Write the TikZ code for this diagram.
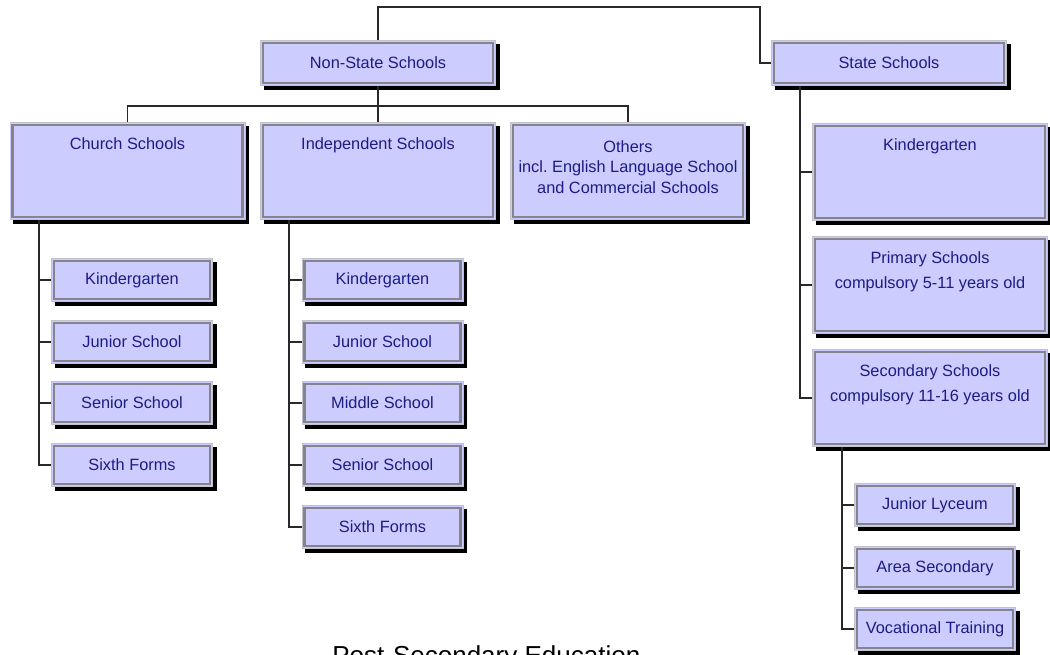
\documentclass[tikz,border=0pt]{standalone}
\usepackage{fontspec}
\setmainfont{Liberation Sans}
\usepackage{tikz}
\usetikzlibrary{positioning}

\definecolor{boxfill}{RGB}{204,204,255}
\definecolor{boxedge}{RGB}{132,132,140}
\definecolor{boxrim}{RGB}{192,192,206}
\definecolor{boxtext}{RGB}{28,28,130}
\definecolor{linkgray}{RGB}{40,40,40}

\tikzset{
  schoolbox/.style={rectangle, inner sep=0pt, outer sep=0.06cm,
    preaction={draw=black, fill=black, line width=0.12cm,
      transform canvas={shift={(0.07cm,-0.07cm)}}},
    preaction={draw=boxrim, line width=0.12cm},
    preaction={draw=boxfill, line width=0.08cm},
    fill=boxfill, draw=boxedge, line width=0.05cm,
    text=boxtext, align=center, font=\fontsize{9.3}{11.7}\selectfont},
  headbox/.style={schoolbox, minimum width=4.6cm, minimum height=0.8cm},
  bigbox/.style={schoolbox, minimum width=4.6cm, minimum height=1.84cm},
  smallbox/.style={schoolbox, minimum width=3.12cm, minimum height=0.76cm},
  boxlabel/.style={inner sep=0pt, text=boxtext, align=center,
    font=\fontsize{9.3}{11.7}\selectfont},
  link/.style={draw=linkgray, line width=0.7pt}
}

\begin{document}
\begin{tikzpicture}
            \useasboundingbox (0,0) rectangle (21,-13.1);
            % top level
            \node [headbox] (nonstate) at (7.56,-1.26) {Non-State Schools};
            \node [headbox] (state) at (17.78,-1.26) {State Schools};
            % non-state branches
            \node [bigbox] (church) at (2.55,-3.42) {};
            \node [boxlabel, below=0.3cm of church.north] (churchtxt) {Church Schools};
            \node [bigbox] (indep) at (7.56,-3.42) {};
            \node [boxlabel, below=0.3cm of indep.north] (indeptxt) {Independent Schools};
            \node [bigbox] (others) at (12.56,-3.42) {};
            \node [boxlabel, below=0.36cm of others.north] (otherstxt) {Others\\incl.\ English Language School\\and Commercial Schools};
            % church schools
            \node [smallbox] (ckinder) at (2.64,-5.60) {Kindergarten};
            \node [smallbox] (cjunior) at (2.64,-6.84) {Junior School};
            \node [smallbox] (csenior) at (2.64,-8.06) {Senior School};
            \node [smallbox] (csixth) at (2.64,-9.30) {Sixth Forms};
            % independent schools
            \node [smallbox] (ikinder) at (7.65,-5.60) {Kindergarten};
            \node [smallbox] (ijunior) at (7.65,-6.84) {Junior School};
            \node [smallbox] (imiddle) at (7.65,-8.06) {Middle School};
            \node [smallbox] (isenior) at (7.65,-9.30) {Senior School};
            \node [smallbox] (isixth) at (7.65,-10.54) {Sixth Forms};
            % state schools
            \node [bigbox] (stkinder) at (18.60,-3.44) {};
            \node [boxlabel, below=0.3cm of stkinder.north] (stkindertxt) {Kindergarten};
            \node [bigbox] (primary) at (18.60,-5.70) {};
            \node [boxlabel, below=0.3cm of primary.north] (primarytxt) {Primary Schools\\[2.5pt]compulsory 5-11 years old};
            \node [bigbox] (secondary) at (18.60,-7.96) {};
            \node [boxlabel, below=0.3cm of secondary.north] (secondarytxt) {Secondary Schools\\[2.5pt]compulsory 11-16 years old};
            \node [smallbox] (lyceum) at (18.70,-10.10) {Junior Lyceum};
            \node [smallbox] (areasec) at (18.70,-11.36) {Area Secondary};
            \node [smallbox] (vocational) at (18.70,-12.58) {Vocational Training};
            \node [anchor=base west, inner sep=0pt, font=\fontsize{14.8}{18}\selectfont] (postsec) at (6.64,-13.28) {Post-Secondary Education};
            % connectors
            \coordinate (topjog) at (15.2,-0.14);
            \coordinate (nsbar) at (7.56,-2.12);
            \coordinate (churchtrunk) at (0.78,-4.40);
            \coordinate (indeptrunk) at (5.78,-4.40);
            \coordinate (statetrunk) at (16.0,-1.72);
            \coordinate (sectrunk) at (16.84,-8.94);
            \draw [link] (nonstate.north) |- (topjog) |- (state.west);
            \draw [link] (nonstate.south) -- (indep.north);
            \draw [link] (church.north) |- (nsbar) -| (others.north);
            \draw [link] (churchtrunk) |- (csixth.west);
            \draw [link] (ckinder.west) -- (ckinder.west -| churchtrunk);
            \draw [link] (cjunior.west) -- (cjunior.west -| churchtrunk);
            \draw [link] (csenior.west) -- (csenior.west -| churchtrunk);
            \draw [link] (indeptrunk) |- (isixth.west);
            \draw [link] (ikinder.west) -- (ikinder.west -| indeptrunk);
            \draw [link] (ijunior.west) -- (ijunior.west -| indeptrunk);
            \draw [link] (imiddle.west) -- (imiddle.west -| indeptrunk);
            \draw [link] (isenior.west) -- (isenior.west -| indeptrunk);
            \draw [link] (statetrunk) |- (secondary.west);
            \draw [link] (stkinder.west) -- (stkinder.west -| statetrunk);
            \draw [link] (primary.west) -- (primary.west -| statetrunk);
            \draw [link] (sectrunk) |- (vocational.west);
            \draw [link] (lyceum.west) -- (lyceum.west -| sectrunk);
            \draw [link] (areasec.west) -- (areasec.west -| sectrunk);
        \end{tikzpicture}
\end{document}
